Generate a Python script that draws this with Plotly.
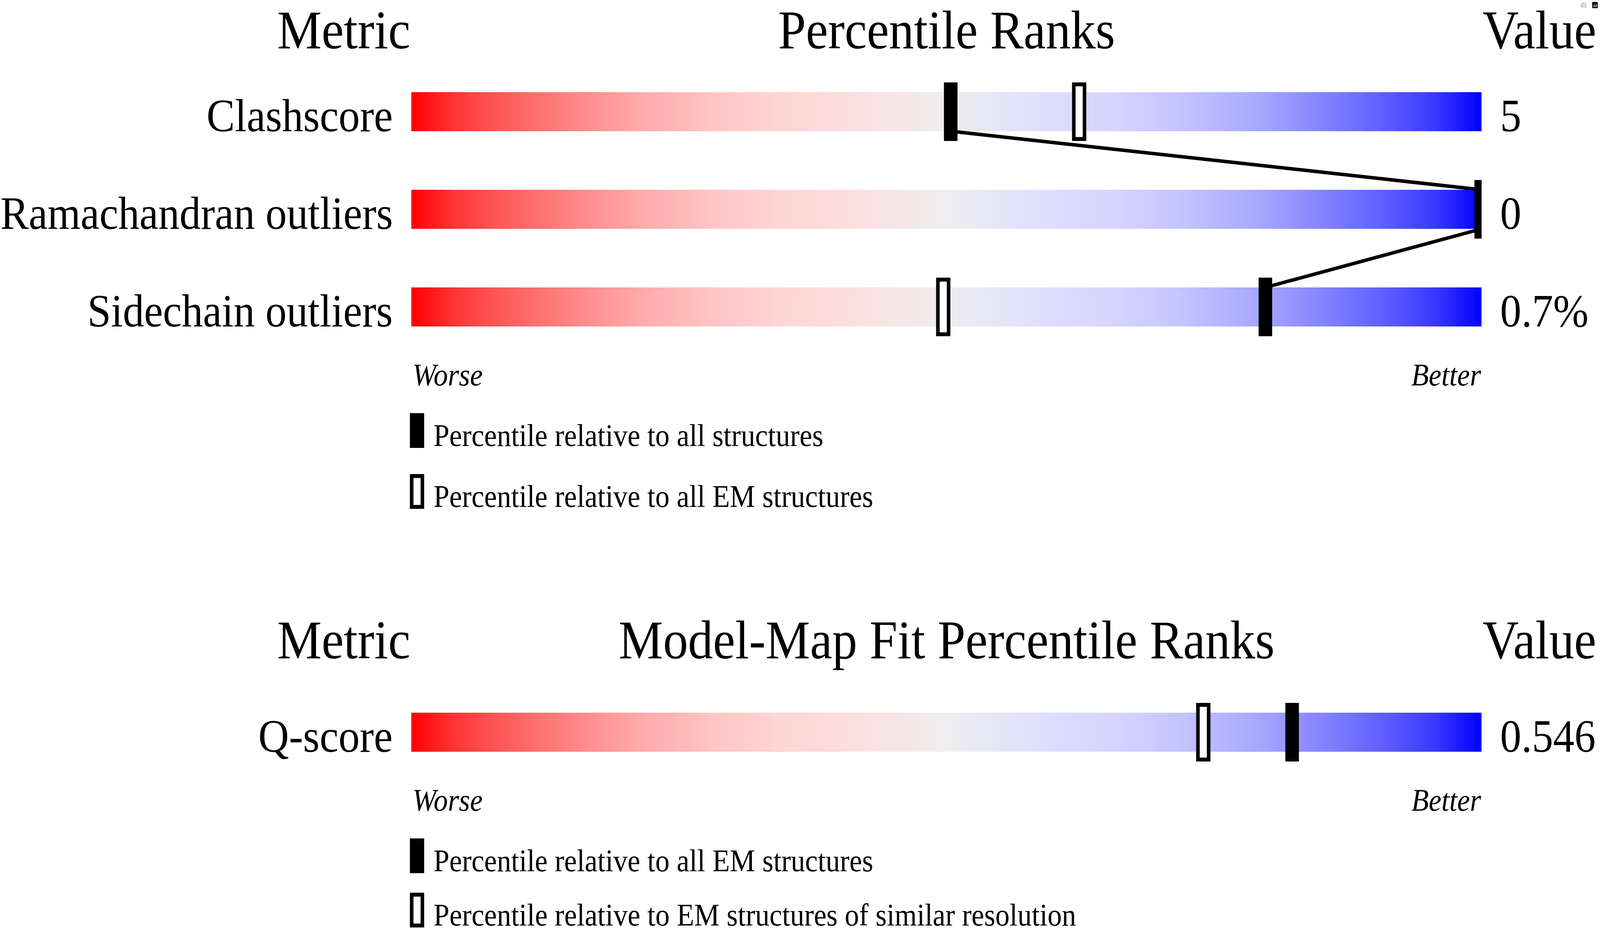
import numpy as np
import plotly.graph_objects as go

# values
geometry_headers = ["Metric", "Percentile Ranks", "Value"]
geometry_metrics = ["Clashscore", "Ramachandran outliers", "Sidechain outliers"]
geometry_values = ["5", "0", "0.7%"]
geometry_pct_all = [50.4, 100.0, 79.8]   # filled marker
geometry_pct_em = [62.4, 100.0, 49.7]    # open marker
geometry_legend = ["Percentile relative to all structures",
                   "Percentile relative to all EM structures"]

fit_headers = ["Metric", "Model-Map Fit Percentile Ranks", "Value"]
fit_metrics = ["Q-score"]
fit_values = ["0.546"]
fit_pct_all = [82.3]       # filled marker
fit_pct_similar = [74.0]   # open marker
fit_legend = ["Percentile relative to all EM structures",
              "Percentile relative to EM structures of similar resolution"]

W, H = 4485, 2402
BAR_L, BAR_R = 1153, 4153
SERIF = "Liberation Serif"

# red -> grey -> blue slider
slider_scale = [
    [0.0, "rgb(255,0,0)"], [0.04, "rgb(255,53,53)"], [0.085, "rgb(255,90,90)"],
    [0.15, "rgb(255,133,133)"], [0.21, "rgb(255,168,168)"], [0.28, "rgb(255,196,196)"],
    [0.34, "rgb(255,212,212)"], [0.41, "rgb(253,222,222)"], [0.5, "rgb(238,238,238)"],
    [0.59, "rgb(222,222,255)"], [0.66, "rgb(212,212,255)"], [0.72, "rgb(196,196,255)"],
    [0.79, "rgb(168,168,255)"], [0.85, "rgb(133,133,255)"], [0.915, "rgb(90,90,255)"],
    [0.96, "rgb(53,53,255)"], [1.0, "rgb(0,0,255)"],
]
ramp = np.linspace(0, 100, 1000)

fig = go.Figure()


def txt(x_px, base, s, size, anchor, italic=False):
    fig.add_annotation(x=x_px / W, xref="paper", y=base - 0.3375 * size, yref="y",
                       text=s, xanchor=anchor, yanchor="middle", showarrow=False,
                       borderpad=0,
                       font=dict(family=SERIF, size=size, color="black",
                                 style="italic" if italic else "normal"))


def panel(header_base, first_row, headers, metrics, values, pct_all, pct_open, legend, link):
    txt(1151, header_base, headers[0], 140, "right")
    txt((BAR_L + BAR_R) / 2, header_base, headers[1], 140, "center")
    txt(4155, header_base, headers[2], 140, "left")

    centers = [first_row + 250 * i for i in range(len(metrics))]
    for c, m, v in zip(centers, metrics, values):
        fig.add_trace(go.Heatmap(z=[ramp], x0=0.05, dx=0.1, y0=c, dy=100,
                                 zmin=0, zmax=100, colorscale=slider_scale,
                                 showscale=False, hoverinfo="skip"))
        txt(1102, c + 50, m, 119, "right")
        txt(4204, c + 50, v, 119, "left")

    if link and len(metrics) > 1:
        lx, ly = [], []
        for i in range(len(metrics) - 1):
            lx += [pct_all[i], pct_all[i + 1]]
            ly += [centers[i] + 50, centers[i + 1] - 50]
        fig.add_trace(go.Scatter(x=lx, y=ly, mode="lines", hoverinfo="skip",
                                 line=dict(color="black", width=9), showlegend=False))

    for c, po, pa in zip(centers, pct_open, pct_all):
        fig.add_shape(type="rect", xref="x", yref="y", xsizemode="pixel", xanchor=po,
                      x0=-15, x1=15, y0=c - 70, y1=c + 70,
                      fillcolor="white", line=dict(color="black", width=10))
        fig.add_shape(type="rect", xref="x", yref="y", xsizemode="pixel", xanchor=pa,
                      x0=-19, x1=19, y0=c - 75, y1=c + 75,
                      fillcolor="black", line=dict(width=0))

    bottom = centers[-1] + 50
    txt(1155, bottom + 151, "Worse", 80, "left", italic=True)
    txt(BAR_R, bottom + 151, "Better", 80, "right", italic=True)

    for k, lab in enumerate(legend):
        # keep the last legend line inside the page
        top = min(bottom + 222 + 156 * k, H - 116)
        if k == 0:
            fig.add_shape(type="rect", xref="paper", yref="y",
                          x0=1149 / W, x1=1189 / W, y0=top, y1=top + 89,
                          fillcolor="black", line=dict(width=0))
        else:
            fig.add_shape(type="rect", xref="paper", yref="y",
                          x0=1154 / W, x1=1184 / W, y0=top + 5, y1=top + 84,
                          fillcolor="white", line=dict(color="black", width=10))
        txt(1214, top + 84, lab, 80, "left")


panel(124, 286, geometry_headers, geometry_metrics, geometry_values,
      geometry_pct_all, geometry_pct_em, geometry_legend, True)
panel(1686, 1875, fit_headers, fit_metrics, fit_values,
      fit_pct_all, fit_pct_similar, fit_legend, False)

fig.update_layout(
    width=W, height=H, autosize=False,
    margin=dict(l=0, r=0, t=0, b=0),
    paper_bgcolor="white", plot_bgcolor="white",
    showlegend=False,
    xaxis=dict(domain=[BAR_L / W, BAR_R / W], range=[0, 100], visible=False, fixedrange=True),
    yaxis=dict(domain=[0, 1], range=[H, 0], visible=False, fixedrange=True),
)

# the browser viewport can be narrower than the figure: fit the figure to it
fit_js = """
document.body.style.margin = '0';
document.body.style.overflow = 'hidden';
var gd = document.getElementById('{plot_id}');
var sx = Math.min(1, window.innerWidth / %d), sy = Math.min(1, window.innerHeight / %d);
if (sx < 1 || sy < 1) {
  gd.style.transformOrigin = '0 0';
  gd.style.transform = 'scale(' + sx + ',' + sy + ')';
}
""" % (W, H)

fig.write_html("out.html", post_script=fit_js)
